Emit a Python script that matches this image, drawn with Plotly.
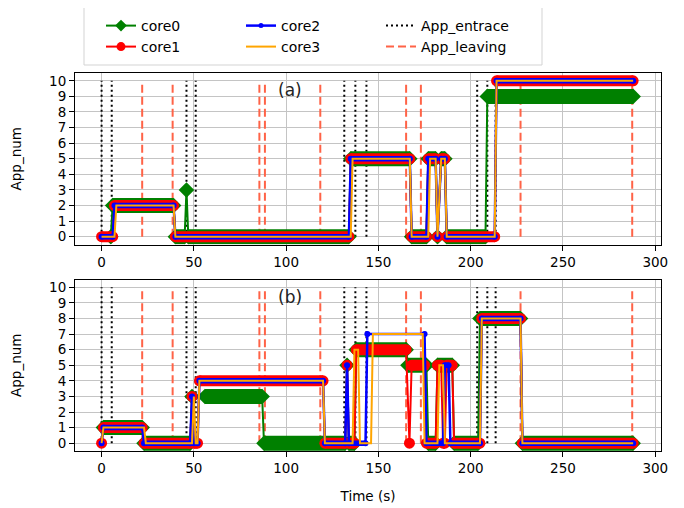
import plotly.graph_objects as go
from plotly.subplots import make_subplots

# ---------------- data ----------------
# Panel (a): breakpoints (time s, number of apps) per core
a_core0_t = [5, 6, 39, 40, 45, 46, 47, 134, 135, 167, 168, 176, 177, 181, 182, 184, 186, 187, 208, 209, 288]
a_core0_v = [0, 2, 2, 0, 0, 3, 0, 0, 5, 5, 0, 0, 5, 5, 0, 5, 5, 0, 0, 9, 9]
a_core1_t = [0, 6, 7, 39, 40, 134, 135, 167, 168, 176, 177, 181, 182, 184, 186, 187, 213, 214, 288]
a_core1_v = [0, 0, 2, 2, 0, 0, 5, 5, 0, 0, 5, 5, 0, 5, 5, 0, 0, 10, 10]
a_core2_t = [0, 6, 7, 39, 40, 134, 135, 167, 168, 176, 177, 181, 182, 184, 186, 187, 213, 214, 288]
a_core2_v = [0, 0, 2, 2, 0, 0, 5, 5, 0, 0, 5, 5, 0, 5, 5, 0, 0, 10, 10]
a_core3_t = [0, 7, 8, 39, 40, 135, 136, 167, 168, 177, 178, 181, 182, 184, 186, 187, 213, 214, 288]
a_core3_v = [0, 0, 2, 2, 0, 0, 5, 5, 0, 0, 5, 5, 0, 5, 5, 0, 0, 10, 10]

# Panel (b)
b_core0_t = [1, 22, 23, 48, 49, 56, 87, 88, 132, 133, 134, 137, 138, 165, 166, 176, 177, 181, 182, 190, 191, 204, 205, 227, 228, 288]
b_core0_v = [1, 1, 0, 0, 3, 3, 3, 0, 0, 5, 0, 0, 6, 6, 5, 5, 0, 0, 5, 5, 0, 0, 8, 8, 0, 0]
b_core1_t = [0, 1, 22, 23, 48, 49, 50, 52, 53, 120, 121, 132, 133, 134, 137, 138, 165, 166.8, 168, 175, 176, 181, 182, 184, 185, 186, 187, 190, 191, 205, 206, 227, 228, 288]
b_core1_v = [0, 1, 1, 0, 0, 3, 0, 0, 4, 4, 0, 0, 5, 0, 0, 6, 6, 0, 5, 5, 0, 0, 5, 5, 0, 0, 5, 5, 0, 0, 8, 8, 0, 0]
b_core2_t = [0, 1, 22, 23, 48, 49, 50, 52, 53, 120, 121, 132, 133, 134, 143, 144, 175, 176, 185, 186, 188, 189, 205, 206, 227, 228, 288]
b_core2_v = [0, 1, 1, 0, 0, 3, 0, 0, 4, 4, 0, 0, 5, 0, 0, 7, 7, 0, 0, 5, 5, 0, 0, 8, 8, 0, 0]
b_core3_t = [0, 1, 23, 24, 49, 50, 51, 52, 53, 120, 121, 136, 137, 139, 140, 146, 147, 174, 175, 182, 183, 185, 186, 205, 206, 227, 228, 288]
b_core3_v = [0, 1, 1, 0, 0, 3, 0, 0, 4, 4, 0, 0, 6, 6, 0, 0, 7, 7, 0, 0, 5, 5, 0, 0, 8, 8, 0, 0]

# segments (by start time) that were sampled sparsely (no dense marker band)
b_core0_sparse = [49]
b_core2_sparse = [144]

app_entrance = [0, 5.5, 46, 51, 131.5, 137.5, 143.5, 203.5, 209, 213.5]
app_leaving = [22, 38.5, 85.5, 88.5, 118.5, 165, 173, 227, 287.5]
vline_low, vline_high = 0, 10

x_ticks = [0, 50, 100, 150, 200, 250, 300]
y_ticks = list(range(0, 11))
core_names = ["core0", "core1", "core2", "core3"]
panel_labels = ["(a)", "(b)"]

# ---------------- styles ----------------
FONT = "DejaVu Sans"
# page offset: the browser body has an 8px margin
OFF = 8
W, H = 684 - OFF, 508 - OFF
ML, MT = 75 - OFF, 73 - OFF
MR, MB = 23, 57
PW, PH = W - ML - MR, H - MT - MB


def px_x(px):
    return (px - OFF - ML) / PW


def px_y(py):
    return (H - MB - (py - OFF)) / PH


# legend slot for each entry (page px of legend left / top)
legend_slots = {
    "core0": ("legend", 101, 10), "core1": ("legend4", 101, 31),
    "core2": ("legend2", 241, 10), "core3": ("legend5", 241, 31),
    "App_entrace": ("legend3", 381, 10), "App_leaving": ("legend6", 381, 31),
}

styles = {
    "core0": dict(color="green", lw=2, sym="diamond", leg_size=9, band=15, size=12),
    "core1": dict(color="red", lw=2, sym="circle", leg_size=9, band=11, size=11),
    "core2": dict(color="blue", lw=2.5, sym="circle", leg_size=5, band=5.5, size=6),
    "core3": dict(color="orange", lw=2, sym=None, leg_size=0, band=0, size=0),
}

panels = [
    dict(t=[a_core0_t, a_core1_t, a_core2_t, a_core3_t], v=[a_core0_v, a_core1_v, a_core2_v, a_core3_v],
         sparse=[[], [], [], []]),
    dict(t=[b_core0_t, b_core1_t, b_core2_t, b_core3_t], v=[b_core0_v, b_core1_v, b_core2_v, b_core3_v],
         sparse=[b_core0_sparse, [], b_core2_sparse, []]),
]


def vline_xy(times, lo, hi):
    xs, ys = [], []
    for t in times:
        xs += [t, t, None]
        ys += [lo, hi, None]
    return xs, ys


def band_xy(t, v, sparse):
    xs, ys = [], []
    for i in range(len(t)):
        xs.append(t[i])
        ys.append(v[i])
        if i < len(t) - 1 and (v[i + 1] != v[i] or t[i] in sparse):
            xs.append(None)
            ys.append(None)
    return xs, ys


fig = make_subplots(rows=2, cols=1, vertical_spacing=35 / 378)

for p, panel in enumerate(panels):
    row = p + 1
    first = p == 0
    ex, ey = vline_xy(app_entrance, vline_low, vline_high)
    fig.add_trace(go.Scatter(x=ex, y=ey, mode="lines", name="App_entrace",
                             line=dict(color="black", width=2, dash="2px,3px"),
                             showlegend=first, legend=legend_slots["App_entrace"][0], hoverinfo="skip"),
                  row=row, col=1)
    lx, ly = vline_xy(app_leaving, vline_low, vline_high)
    fig.add_trace(go.Scatter(x=lx, y=ly, mode="lines", name="App_leaving",
                             line=dict(color="tomato", width=2, dash="8px,4px"),
                             showlegend=first, legend=legend_slots["App_leaving"][0], hoverinfo="skip"),
                  row=row, col=1)
    for k, name in enumerate(core_names):
        st = styles[name]
        t, v = panel["t"][k], panel["v"][k]
        if st["sym"]:
            fig.add_trace(go.Scatter(x=t, y=v, mode="lines+markers", name=name,
                                     line=dict(color=st["color"], width=st["lw"]),
                                     marker=dict(symbol=st["sym"], size=st["leg_size"], color=st["color"]),
                                     showlegend=first, legend=legend_slots[name][0], hoverinfo="skip"),
                          row=row, col=1)
            bx, by = band_xy(t, v, panel["sparse"][k])
            fig.add_trace(go.Scatter(x=bx, y=by, mode="lines+markers", name=name,
                                     line=dict(color=st["color"], width=st["band"]),
                                     marker=dict(symbol=st["sym"], size=st["size"], color=st["color"],
                                                 line=dict(width=0)),
                                     connectgaps=False, showlegend=False, hoverinfo="skip"),
                          row=row, col=1)
        else:
            fig.add_trace(go.Scatter(x=t, y=v, mode="lines", name=name,
                                     line=dict(color=st["color"], width=st["lw"]),
                                     showlegend=first, legend=legend_slots[name][0], hoverinfo="skip"),
                          row=row, col=1)
    fig.add_annotation(x=102, y=9.4, xref=f"x{'' if row == 1 else row}", yref=f"y{'' if row == 1 else row}",
                       text=panel_labels[p], showarrow=False, font=dict(size=17, color="#222", family=FONT))

axis_common = dict(showline=True, mirror=True, linecolor="black", linewidth=1, ticks="outside",
                   ticklen=5, tickwidth=1, tickcolor="black", showgrid=True, gridcolor="#c4c4c4",
                   gridwidth=1, zeroline=False, tickfont=dict(size=13.5, color="black", family=FONT))
for r in (1, 2):
    fig.update_xaxes(range=[-14.4, 303.1], tickvals=x_ticks, row=r, col=1, **axis_common)
    fig.update_yaxes(range=[-0.5, 10.5], tickvals=y_ticks, row=r, col=1,
                     title=dict(text="App_num", font=dict(size=13.5, color="black", family=FONT), standoff=24),
                     **axis_common)
fig.update_xaxes(title=dict(text="Time (s)", font=dict(size=13.5, color="black", family=FONT), standoff=16),
                 row=2, col=1)

leg_common = dict(orientation="v", xanchor="left", yanchor="top", bgcolor="rgba(0,0,0,0)",
                  borderwidth=0, font=dict(size=14, color="black", family=FONT),
                  itemwidth=30, tracegroupgap=0)
legend_layout = {}
for name, (lid, lx0, ly0) in legend_slots.items():
    legend_layout[lid] = dict(x=px_x(lx0), y=px_y(ly0), **leg_common)

fig.update_layout(
    width=W, height=H, margin=dict(l=ML, r=MR, t=MT, b=MB, autoexpand=False),
    paper_bgcolor="white", plot_bgcolor="white",
    font=dict(family=FONT, size=13.5, color="black"),
    shapes=[dict(type="rect", xref="paper", yref="paper", x0=px_x(84), x1=px_x(542),
                 y0=px_y(65), y1=px_y(5), line=dict(color="#d3d3d3", width=1), fillcolor="white",
                 layer="below")],
    **legend_layout,
)

fig.write_html("out.html")
